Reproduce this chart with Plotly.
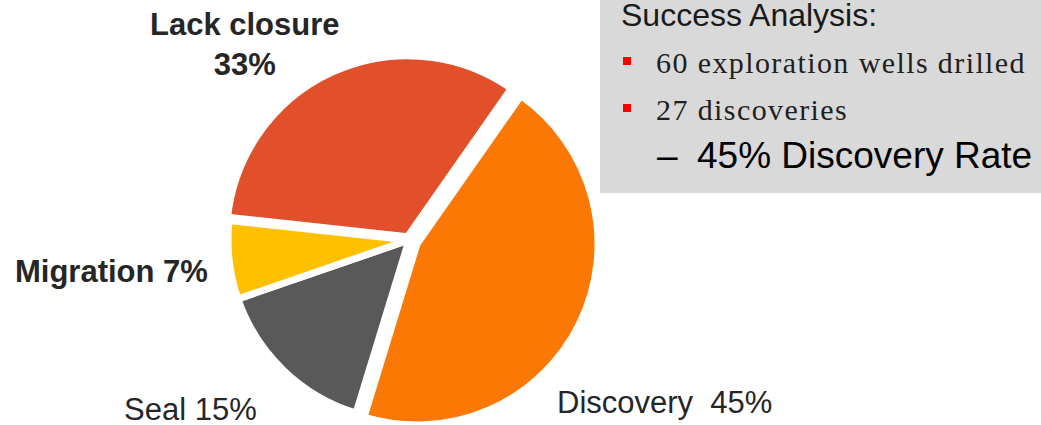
import plotly.graph_objects as go

W, H = 1041, 425

# ---- data ----
categories = ["Discovery", "Seal", "Migration", "Lack closure"]
shares = [45, 15, 7, 33]
slice_colors = ["#FC7805", "#595959", "#FFC000", "#E1502A"]
label_formats = ["{c}\u00a0 {v}%", "{c} {v}%", "<b>{c} {v}%</b>", "<b>{c}<br>{v}%</b>"]

panel_title = "Success Analysis:"
bullet_lines = ["60 exploration wells drilled", "27 discoveries"]
rate_text = "45% Discovery Rate"

TRANSPARENT = "rgba(0,0,0,0)"


def px(x):
    return x / W


def py(y):
    return 1 - y / H


def domain(cx, cy, half):
    yb = H - cy
    return dict(x=[px(cx - half), px(cx + half)],
                y=[max(0.0, (yb - half) / H), min(1.0, (yb + half) / H)])


# main pie (all slices except the exploded Discovery slice)
is_disc = [c == "Discovery" for c in categories]
colors_a = [TRANSPARENT if d else col for d, col in zip(is_disc, slice_colors)]
lines_a = [TRANSPARENT if d else "white" for d in is_disc]
colors_b = [col if d else TRANSPARENT for d, col in zip(is_disc, slice_colors)]
lines_b = ["white" if d else TRANSPARENT for d in is_disc]

common = dict(labels=categories, values=shares, sort=False, direction="clockwise",
              rotation=35, textinfo="none", hoverinfo="label+percent", showlegend=False)

fig = go.Figure()
fig.add_trace(go.Pie(**common,
                     marker=dict(colors=colors_a, line=dict(color=lines_a, width=7)),
                     pull=[0, 0, 0, 0.02],
                     domain=domain(409, 240, 184.6)))
fig.add_trace(go.Pie(**common,
                     marker=dict(colors=colors_b, line=dict(color=lines_b, width=7)),
                     domain=domain(417, 244, 181)))

annotations = []
label_font = dict(family="Liberation Sans, Arial, sans-serif", size=31, color="#262626")
label_pos = {"Discovery": (664, 402), "Seal": (190, 409), "Migration": (111, 271),
             "Lack closure": (245, 45)}
for c, v, fmt in zip(categories, shares, label_formats):
    x, y = label_pos[c]
    annotations.append(dict(x=px(x), y=py(y), xref="paper", yref="paper", showarrow=False,
                            text=fmt.format(c=c, v=v), font=label_font,
                            xanchor="center", yanchor="middle", align="center"))

# right panel texts
annotations.append(dict(x=px(619), y=py(15), xref="paper", yref="paper", showarrow=False,
                        text=panel_title, xanchor="left", yanchor="middle",
                        font=dict(family="Liberation Sans, Arial, sans-serif", size=32,
                                  color="#1a1a1a")))
for i, t in enumerate(bullet_lines):
    annotations.append(dict(x=px(654), y=py(63 + 47 * i), xref="paper", yref="paper",
                            showarrow=False,
                            text='<span style="letter-spacing:1.4px">' + t + '</span>',
                            xanchor="left", yanchor="middle",
                            font=dict(family="Liberation Serif, Times New Roman, serif",
                                      size=30, color="#1f1f1f")))
annotations.append(dict(x=px(655), y=py(155), xref="paper", yref="paper", showarrow=False,
                        text="\u2013", xanchor="left", yanchor="middle",
                        font=dict(family="Liberation Sans, Arial, sans-serif", size=37,
                                  color="#000000")))
annotations.append(dict(x=px(695), y=py(155), xref="paper", yref="paper", showarrow=False,
                        text=rate_text, xanchor="left", yanchor="middle",
                        font=dict(family="Liberation Sans, Arial, sans-serif", size=37,
                                  color="#000000")))

shapes = [dict(type="rect", xref="paper", yref="paper", x0=px(600), x1=1.0,
               y0=py(193), y1=1.0, fillcolor="#D9D9D9", line=dict(width=0), layer="below")]
for i in range(len(bullet_lines)):
    yc = 61 + 47 * i
    shapes.append(dict(type="rect", xref="paper", yref="paper", x0=px(623), x1=px(631),
                       y0=py(yc + 4), y1=py(yc - 4), fillcolor="#FF0000",
                       line=dict(width=0)))

fig.update_layout(width=W, height=H, margin=dict(l=0, r=0, t=0, b=0),
                  paper_bgcolor="white", plot_bgcolor="white",
                  annotations=annotations, shapes=shapes, showlegend=False)

fig.write_html("out.html", config={"displayModeBar": False},
               post_script="document.body.style.margin='0';document.body.style.overflow='hidden';")
